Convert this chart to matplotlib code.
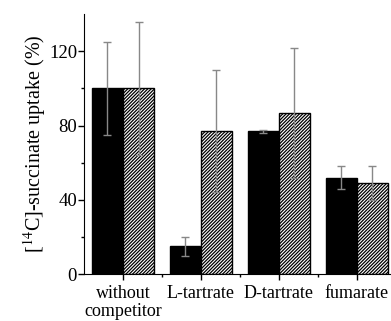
import matplotlib
matplotlib.use("Agg")
import matplotlib.pyplot as plt
import numpy as np

categories = ["without\ncompetitor", "L-tartrate", "D-tartrate", "fumarate"]
solid_vals = [100, 15, 77, 52]
solid_err = [25, 5, 0.8, 6]
hatch_vals = [100, 77, 86.5, 49]
hatch_err = [36, 33, 35, 9]

plt.rcParams['font.family'] = ['Liberation Serif', 'DejaVu Serif']
plt.rcParams['mathtext.fontset'] = 'stix'
plt.rcParams['hatch.linewidth'] = 0.9
plt.rcParams['hatch.color'] = '#555555'

fig = plt.figure(figsize=(3.91, 3.21), dpi=100)
ax = fig.add_axes([0.215, 0.146, 0.785, 0.81])

x = np.arange(len(categories))
w = 0.4
ekw = dict(ecolor='#888888', elinewidth=1, capsize=3, capthick=1)
ax.bar(x - w / 2, solid_vals, w, color='black', edgecolor='black',
       yerr=solid_err, error_kw=ekw)
ax.bar(x + w / 2, hatch_vals, w, color='white', edgecolor='black',
       hatch='//////////', linewidth=1, yerr=hatch_err, error_kw=ekw)

ax.set_xlim(-0.5, 3.44)
ax.set_ylim(0, 140)
ax.set_yticks([0, 40, 80, 120])
ax.set_yticks([20, 60, 100], minor=True)
ax.set_xticks(x)
ax.set_xticks(x[:-1] + 0.5, minor=True)
ax.set_xticklabels(categories, fontsize=13, linespacing=1.05)
ax.tick_params(axis='y', labelsize=13.5, length=4, width=1, pad=1)
ax.tick_params(axis='x', length=4, width=1, pad=4)
ax.tick_params(which='minor', length=2, width=1)
ax.spines['top'].set_visible(False)
ax.spines['right'].set_visible(False)
ax.set_ylabel("[$^{14}$C]-succinate uptake (%)", fontsize=14.5, labelpad=1)

fig.savefig("out.png", dpi=100)
